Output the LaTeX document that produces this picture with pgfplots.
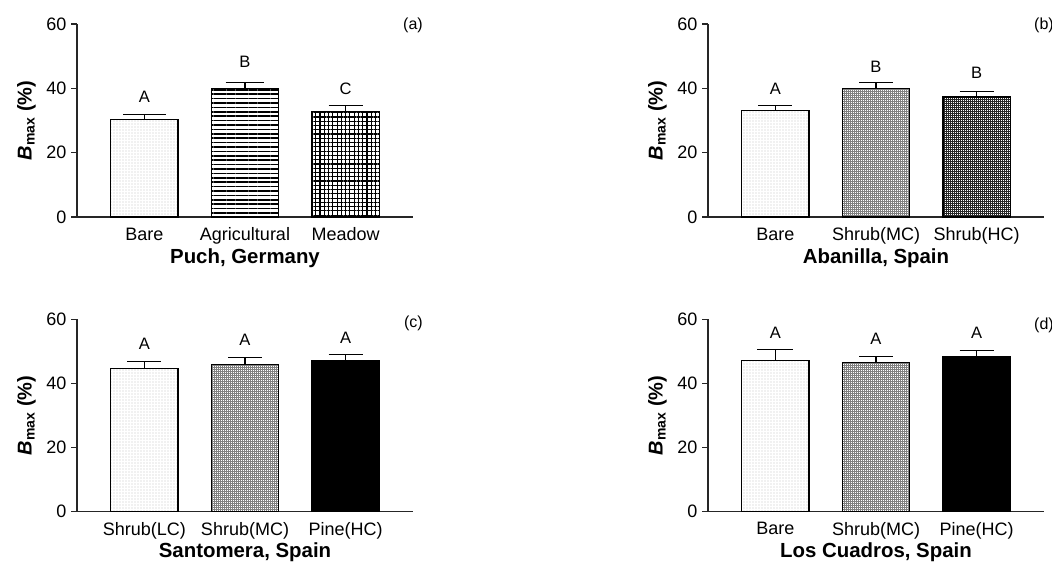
\documentclass[border=0pt]{standalone}
\usepackage{pgfplots}
\pgfplotsset{compat=1.18}
\usepackage{fontspec}
\setmainfont{Liberation Sans}
\usetikzlibrary{patterns.meta}

\tikzset{
  letter/.style={font=\fontsize{12.4}{14}\selectfont},
  plabel/.style={font=\fontsize{12}{14}\selectfont, anchor=east, inner sep=0pt, xshift=7.5pt},
}
\pgfplotsset{
  panel/.style={
    scale only axis,
    width=252pt,
    xmin=-0.67, xmax=2.67,
    ymin=0, ymax=60,
    axis x line*=bottom, axis y line*=left,
    axis line style={-, line width=0.8pt, black!85},
    ytick={0,20,40,60},
    xtick={0,1,2},
    tick align=outside,
    major tick length=4.5pt,
    y tick style={line width=0.8pt, black!85},
    x tick style={draw=none},
    tick label style={font=\fontsize{13.5}{16}\selectfont},
    /pgf/number format/assume math mode=true,
    xlabel style={font=\fontsize{15.3}{18}\selectfont\bfseries, yshift=4pt},
    ylabel={\bfseries\itshape B\textsubscript{\upshape max}\upshape\ (\%)},
    ylabel style={font=\fontsize{15}{18}\selectfont, yshift=1pt},
    clip=false,
  },
  barbase/.style={ybar, bar width=0.667, draw=black, line width=0.9pt,
    error bars/y dir=plus, error bars/y explicit,
    error bars/error mark=|,
    error bars/error bar style={line width=0.8pt, black},
    error bars/error mark options={line width=0.8pt, mark size=12.75pt, black}},
  cap/.style={error bars/error mark options={line width=0.8pt, mark size=#1, black}},
  pBare/.style={barbase, pattern={Dots[distance=2.25pt, radius=0.36pt]}, pattern color=black!65},
  pAgri/.style={barbase, pattern={Lines[angle=0, distance=3.3pt, line width=1.1pt]}, pattern color=black},
  pMeadow/.style={barbase, pattern={Hatch[angle=0, distance=3.2pt, line width=0.85pt]}, pattern color=black},
  pMC/.style={barbase, pattern={Hatch[angle=0, distance=1.5pt, line width=0.25pt]}, pattern color=black!50},
  pHC/.style={barbase, pattern={Hatch[angle=0, distance=1.5pt, line width=0.35pt]}, pattern color=black!85},
  pPine/.style={barbase, fill=black},
}

\begin{document}
\begin{tikzpicture}
\path[use as bounding box] (0,0) rectangle (789pt,423.75pt);

% (a)
\begin{axis}[panel, at={(57.75pt,261pt)}, anchor=south west, height=144.75pt,
  xticklabels={Bare,Agricultural,Meadow}, xlabel={Puch, Germany}]
\addplot[pBare, cap=16pt] coordinates {(0,30.4) +- (0,1.4)};
\addplot[pAgri, cap=14.5pt] coordinates {(1,39.9) +- (0,2.0)};
\addplot[pMeadow] coordinates {(2,32.7) +- (0,2.1)};
\node[letter] at (axis cs:0,37.4) {A};
\node[letter] at (axis cs:1,48.3) {B};
\node[letter] at (axis cs:2,40.0) {C};
\node[plabel] at (axis cs:2.67,59.7) {(a)};
\end{axis}

% (b)
\begin{axis}[panel, at={(531pt,261pt)}, anchor=south west, height=144.75pt,
  xticklabels={Bare,Shrub(MC),Shrub(HC)}, xlabel={Abanilla, Spain}]
\addplot[pBare] coordinates {(0,33.2) +- (0,1.4)};
\addplot[pMC] coordinates {(1,40.0) +- (0,1.9)};
\addplot[pHC] coordinates {(2,37.3) +- (0,1.7)};
\node[letter] at (axis cs:0,39.7) {A};
\node[letter] at (axis cs:1,46.7) {B};
\node[letter] at (axis cs:2,44.9) {B};
\node[plabel] at (axis cs:2.67,59.7) {(b)};
\end{axis}

% (c)
\begin{axis}[panel, at={(57.75pt,40pt)}, anchor=south west, height=144.3pt,
  xticklabels={Shrub(LC),Shrub(MC),Pine(HC)}, xlabel={Santomera, Spain}]
\addplot[pBare] coordinates {(0,44.6) +- (0,2.3)};
\addplot[pMC] coordinates {(1,45.9) +- (0,2.1)};
\addplot[pPine] coordinates {(2,47.1) +- (0,1.8)};
\node[letter] at (axis cs:0,52.5) {A};
\node[letter] at (axis cs:1,53.6) {A};
\node[letter] at (axis cs:2,54.1) {A};
\node[plabel] at (axis cs:2.67,58.7) {(c)};
\end{axis}

% (d)
\begin{axis}[panel, at={(531pt,40pt)}, anchor=south west, height=144.3pt,
  xticklabels={Bare,Shrub(MC),Pine(HC)}, xlabel={Los Cuadros, Spain}]
\addplot[pBare, cap=13.5pt] coordinates {(0,47.2) +- (0,3.5)};
\addplot[pMC] coordinates {(1,46.6) +- (0,1.8)};
\addplot[pPine] coordinates {(2,48.5) +- (0,1.9)};
\node[letter] at (axis cs:0,55.8) {A};
\node[letter] at (axis cs:1,53.9) {A};
\node[letter] at (axis cs:2,55.8) {A};
\node[plabel] at (axis cs:2.67,58.2) {(d)};
\end{axis}
\end{tikzpicture}
\end{document}
